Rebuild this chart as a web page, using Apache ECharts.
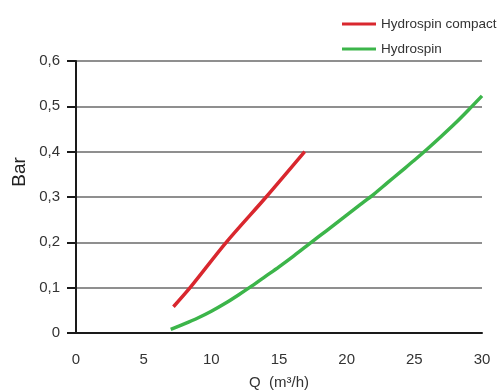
<!DOCTYPE html>
<html>
<head>
<meta charset="utf-8">
<script src="https://cdn.jsdelivr.net/npm/echarts@6/dist/echarts.min.js"></script>
<style>html,body{margin:0;padding:0;background:#fff}#c{width:498px;height:392px}</style>
</head>
<body>
<div id="c"></div>
<script>
const seriesNames = ['Hydrospin compact', 'Hydrospin'];
const compactQ = [7.2, 8.43, 11.1, 14.05, 16.9];
const compactBar = [0.058, 0.1, 0.2, 0.3, 0.4];
const hydroQ = [7, 8, 9, 10, 11, 12, 13, 14, 15, 16, 17, 18, 19, 20, 21, 22, 23, 24, 25, 26, 27, 28, 29, 30];
const hydroBar = [0.008, 0.02, 0.033, 0.048, 0.065, 0.084, 0.104, 0.125, 0.146, 0.168, 0.191, 0.214, 0.237, 0.26, 0.283, 0.306, 0.331, 0.356, 0.381, 0.407, 0.434, 0.462, 0.492, 0.523];
const xTicks = [0, 5, 10, 15, 20, 25, 30];
const yTicks = [0, 0.1, 0.2, 0.3, 0.4, 0.5, 0.6];

const chart = echarts.init(document.getElementById('c'));
const font = 'Liberation Sans, Arial, sans-serif';
chart.setOption({
  animation: false,
  grid: { left: 76, right: 16, top: 61, bottom: 59, outerBoundsMode: 'none', containLabel: false },
  legend: {
    orient: 'vertical', left: 337, top: 12, itemGap: 11,
    itemWidth: 34, itemHeight: 3, icon: 'rect',
    textStyle: { fontFamily: font, fontSize: 13.5, color: '#333' },
    data: seriesNames
  },
  xAxis: {
    type: 'value', min: xTicks[0], max: xTicks[xTicks.length-1], interval: 5,
    name: 'Q  (m³/h)', nameLocation: 'middle', nameGap: 42,
    nameTextStyle: { fontFamily: font, fontSize: 15, color: '#333' },
    axisLine: { show: true, lineStyle: { color: '#1a1a1a', width: 2 } },
    axisTick: { show: false },
    splitLine: { show: false },
    axisLabel: { fontFamily: font, fontSize: 15, color: '#333', margin: 19 }
  },
  yAxis: {
    type: 'value', min: yTicks[0], max: yTicks[yTicks.length-1], interval: 0.1,
    axisLine: { show: true, lineStyle: { color: '#1a1a1a', width: 2 } },
    axisTick: { show: true, length: 9, lineStyle: { color: '#1a1a1a', width: 2 } },
    splitLine: { show: true, lineStyle: { color: '#8f8f8f', width: 2 } },
    axisLabel: { fontFamily: font, fontSize: 15, color: '#333', margin: 16,
      formatter: v => (Math.round(v*10)/10).toString().replace('.', ',') }
  },
  graphic: [{
    type: 'text', x: 20, y: 172, rotation: Math.PI/2,
    style: { text: 'Bar', font: '19px ' + font, fill: '#222', textAlign: 'center', textVerticalAlign: 'middle' }
  }],
  series: [
    { name: seriesNames[0], type: 'line', smooth: 0.3, symbol: 'none',
      color: '#d9272e', lineStyle: { width: 3.5, color: '#d9272e' },
      data: compactQ.map((q,i)=>[q, compactBar[i]]) },
    { name: seriesNames[1], type: 'line', smooth: 0.3, symbol: 'none',
      color: '#3cb54a', lineStyle: { width: 3.5, color: '#3cb54a' },
      data: hydroQ.map((q,i)=>[q, hydroBar[i]]) }
  ]
});
</script>
</body>
</html>
